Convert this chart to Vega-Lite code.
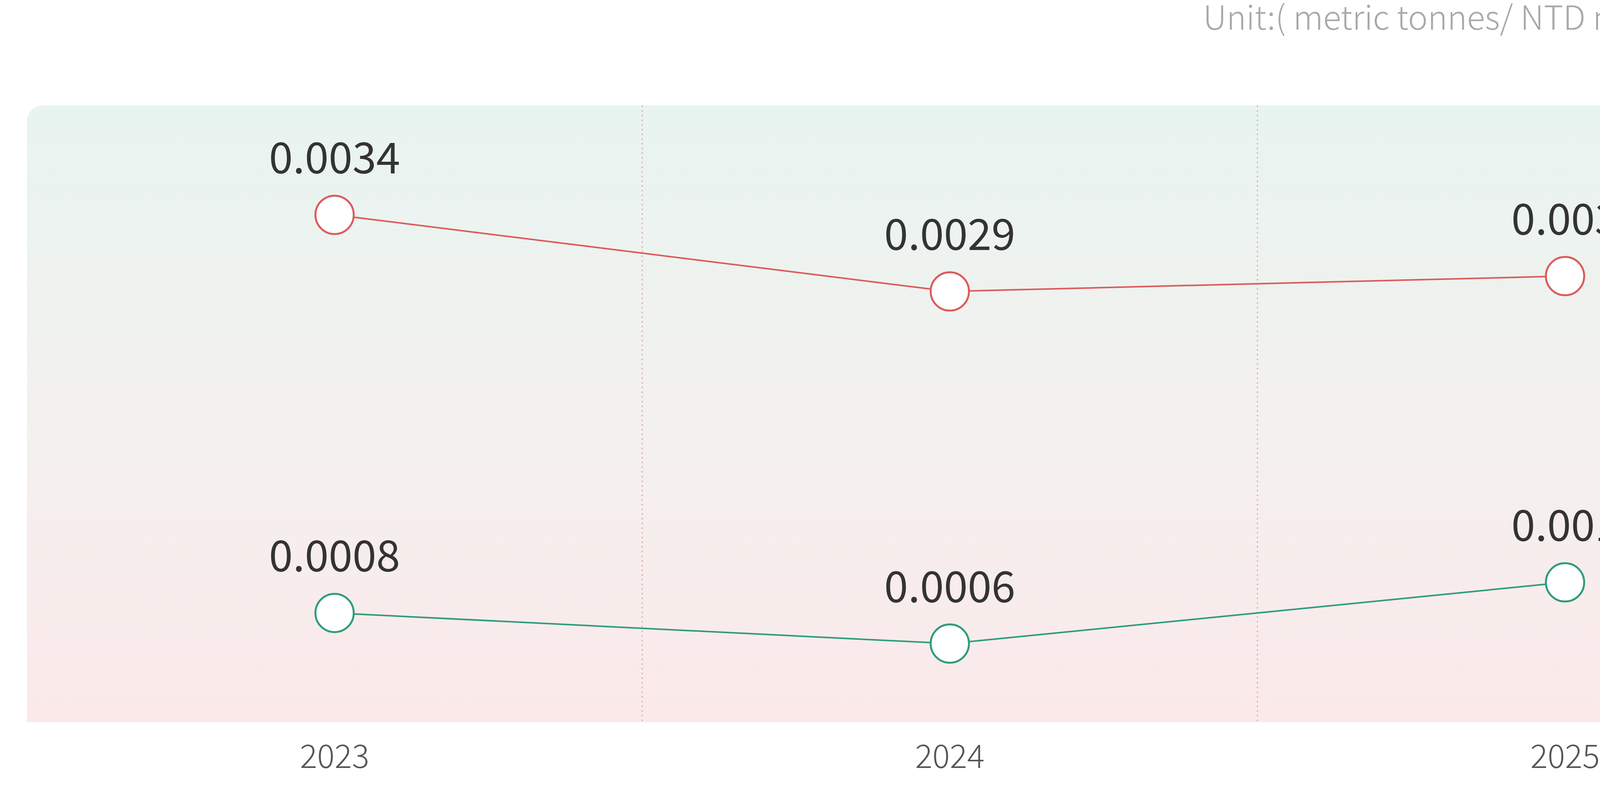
{
  "$schema": "https://vega.github.io/schema/vega-lite/v6.json",
  "width": 4725,
  "height": 1579,
  "padding": {"left": 69, "top": 7, "right": 40, "bottom": 40},
  "background": "white",
  "config": {
    "view": {"stroke": null},
    "font": "Noto Sans CJK TC"
  },
  "title": {
    "text": "Unit:( metric tonnes/ NTD million of revenue)",
    "anchor": "end",
    "frame": "group",
    "baseline": "alphabetic",
    "offset": 108,
    "fontSize": 85,
    "fontWeight": 300,
    "color": "#a8a8a8",
    "font": "Noto Sans CJK TC"
  },
  "resolve": {"scale": {"y": "independent"}},
  "layer": [
    {
      "data": {
        "values": [
          {"year": "2023", "series": "NOx", "value": 0.0034},
          {"year": "2024", "series": "NOx", "value": 0.0029},
          {"year": "2025", "series": "NOx", "value": 0.003},
          {"year": "2023", "series": "SOx", "value": 0.0008},
          {"year": "2024", "series": "SOx", "value": 0.0006},
          {"year": "2025", "series": "SOx", "value": 0.001}
        ]
      },
      "layer": [
        {
          "data": {"values": [{}]},
          "mark": {
            "type": "rect",
            "cornerRadiusTopLeft": 40,
            "cornerRadiusTopRight": 40,
            "fill": {
              "gradient": "linear",
              "x1": 0, "y1": 0, "x2": 0, "y2": 1,
              "stops": [
                {"offset": 0, "color": "#e8f4f1"},
                {"offset": 0.5, "color": "#f3f1ee"},
                {"offset": 1, "color": "#fbe9ea"}
              ]
            }
          },
          "encoding": {
            "x": {"value": 0},
            "x2": {"value": "width"},
            "y": {"value": 0},
            "y2": {"value": "height"}
          }
        },
        {
          "transform": [{"filter": "datum.series == 'NOx' && datum.year != '2023'"}],
          "mark": {"type": "rule", "color": "#d9adad", "strokeWidth": 3, "strokeDash": [4, 8]},
          "encoding": {
            "x": {
              "field": "year",
              "type": "ordinal",
              "bandPosition": 0,
              "scale": {"type": "band", "domain": ["2023", "2024", "2025"], "paddingInner": 0, "paddingOuter": 0},
              "axis": {
                "title": null,
                "labelAngle": 0,
                "labelLimit": 0,
                "labelFont": "Noto Sans CJK TC",
                "labelFontSize": 83,
                "labelFontWeight": 300,
                "labelColor": "#555555",
                "labelBaseline": "alphabetic",
                "labelPadding": 116,
                "ticks": false,
                "tickSize": 0,
                "domain": false,
                "grid": false
              }
            }
          }
        },
        {
          "mark": {"type": "line", "strokeWidth": 4},
          "encoding": {
            "x": {"field": "year", "type": "ordinal"},
            "y": {
              "field": "value",
              "type": "quantitative",
              "scale": {"domain": [0.0000862, 0.0041143], "zero": false, "nice": false},
              "axis": null
            },
            "color": {
              "field": "series",
              "type": "nominal",
              "scale": {"domain": ["NOx", "SOx"], "range": ["#dd5b5b", "#2e9c7d"]},
              "legend": null
            }
          }
        },
        {
          "mark": {"type": "point", "shape": "circle", "size": 9604, "fill": "white", "fillOpacity": 1, "strokeWidth": 5, "opacity": 1},
          "encoding": {
            "x": {"field": "year", "type": "ordinal"},
            "y": {"field": "value", "type": "quantitative", "axis": null},
            "stroke": {
              "field": "series",
              "type": "nominal",
              "scale": {"domain": ["NOx", "SOx"], "range": ["#dd5b5b", "#2e9c7d"]},
              "legend": null
            }
          }
        },
        {
          "mark": {"type": "text", "font": "Noto Sans CJK TC", "fontSize": 110, "color": "#333333", "baseline": "alphabetic", "dy": -106},
          "encoding": {
            "x": {"field": "year", "type": "ordinal"},
            "y": {"field": "value", "type": "quantitative", "axis": null},
            "text": {"field": "value", "type": "quantitative", "format": "~g"}
          }
        }
      ]
    },
    {
      "data": {
        "values": [
          {"series": "NOx", "name": ["NOx emission", "intensity"], "unit": ["(metric tonnes/ NTD million of", "revenue)"]},
          {"series": "SOx", "name": ["SOx emission", "intensity"], "unit": ["(metric tonnes/ NTD million of", "revenue)"]}
        ]
      },
      "encoding": {
        "x": {"value": {"expr": "width + 415"}},
        "y": {
          "field": "series",
          "type": "nominal",
          "scale": {"type": "point", "domain": ["NOx", "SOx"], "padding": 1.0696, "align": 0.7556},
          "axis": null
        }
      },
      "layer": [
        {
          "mark": {
            "type": "point",
            "shape": "M-1,0A1,1,0,1,1,1,0A1,1,0,1,1,-1,0ZM-1.32,0L-1,0M1,0L1.32,0",
            "size": 6889,
            "fill": "white",
            "fillOpacity": 1,
            "strokeWidth": 5,
            "opacity": 1
          },
          "encoding": {
            "stroke": {
              "field": "series",
              "type": "nominal",
              "scale": {"domain": ["NOx", "SOx"], "range": ["#dd5b5b", "#2e9c7d"]},
              "legend": null
            }
          }
        },
        {
          "mark": {"type": "text", "font": "Noto Sans CJK TC", "align": "left", "baseline": "alphabetic", "dx": 102, "dy": 23, "fontSize": 70, "lineHeight": 84, "color": "#555555"},
          "encoding": {"text": {"field": "name", "type": "nominal"}}
        },
        {
          "mark": {"type": "text", "font": "Noto Sans CJK TC", "align": "left", "baseline": "alphabetic", "dx": 102, "dy": 171, "fontSize": 45, "lineHeight": 85, "color": "#606060"},
          "encoding": {"text": {"field": "unit", "type": "nominal"}}
        }
      ]
    }
  ]
}
